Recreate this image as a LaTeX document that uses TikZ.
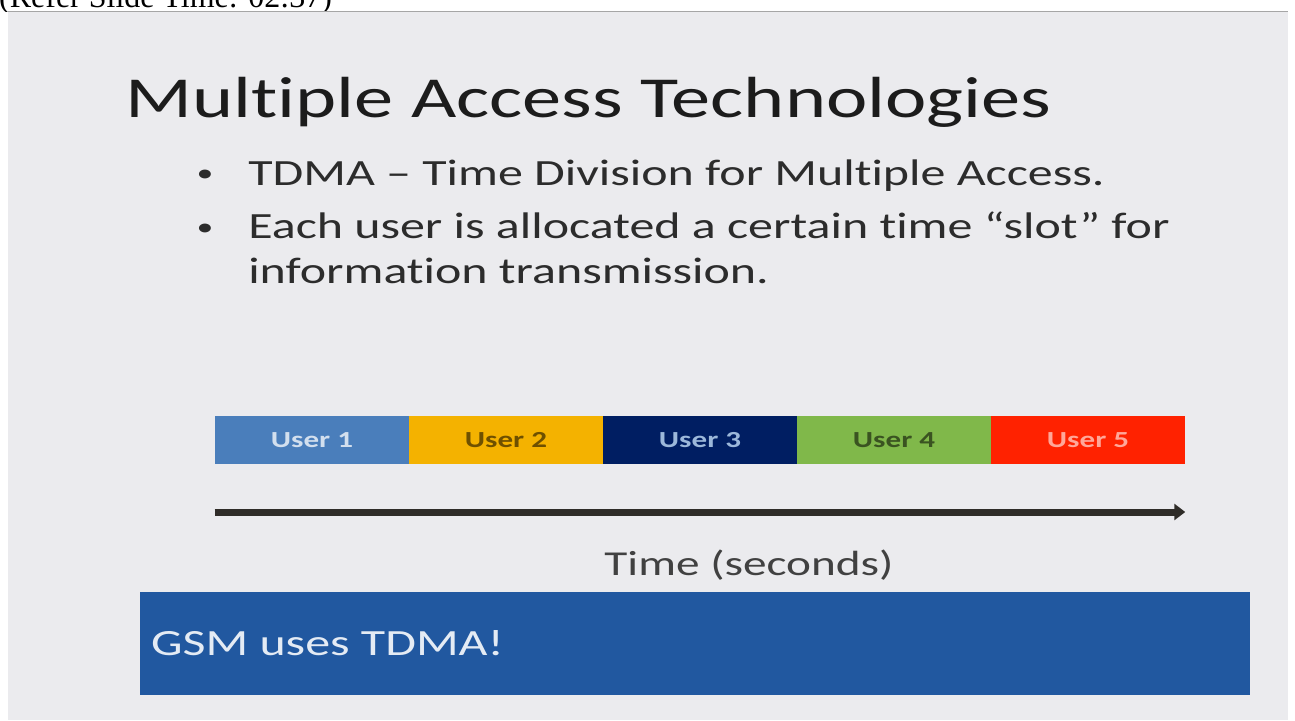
\documentclass[tikz,border=0pt]{standalone}
\usepackage{fontspec}
\setmainfont{Carlito}[Ligatures={TeX,NoCommon}]
\newfontfamily\refreshfont{Liberation Serif}
\usepackage{xcolor}
\usetikzlibrary{arrows.meta}

\definecolor{slidebg}{HTML}{EBEBEE}
\definecolor{titlegray}{HTML}{1C1C1C}
\definecolor{bodygray}{HTML}{2C2C2C}
\definecolor{userone}{HTML}{4A7EBB}
\definecolor{usertwo}{HTML}{F4B200}
\definecolor{userthree}{HTML}{001E62}
\definecolor{userfour}{HTML}{80B84A}
\definecolor{userfive}{HTML}{FF2200}
\definecolor{gsmblue}{HTML}{2158A0}

\begin{document}
\begin{tikzpicture}[x=1pt, y=-1pt]
			\tikzstyle{wide}=[inner sep=0pt, xscale=1.35];
			\tikzstyle{slot}=[wide, minimum width=143.7pt, minimum height=48pt, font=\fontsize{23}{28}\selectfont\bfseries];
			\tikzstyle{bodytext}=[wide, anchor=base west, text=bodygray, font=\fontsize{37}{44}\selectfont];
			\tikzstyle{bulletdot}=[wide, anchor=base, text=bodygray, font=\fontsize{25}{30}\selectfont];
			
			%Page and slide
			\useasboundingbox (0, 0) rectangle (1295, 720);
			\fill[white] (0, 0) rectangle (1295, 720);
			\begin{scope}
				\clip (0, 0) rectangle (1295, 11);
				\node[wide, xscale=0.74, anchor=base west, font=\refreshfont\fontsize{32}{36}\selectfont] (refer) at (-1, 7) {(Refer Slide Time: 02:37)};
			\end{scope}
			\fill[slidebg] (8, 11) rectangle (1288, 720);
			\draw[gray!70, line width=1pt] (8, 11) -- (1288, 11);
			
			%Title
			\node[wide, anchor=base west, text=titlegray, font=\fontsize{58}{66}\selectfont] (title) at (125, 117) {Multiple Access Technologies};
			
			%Bullets
			\node[bulletdot] (dot1) at (205, 181) {•};
			\node[bodytext] (line1) at (248, 185) {TDMA – Time Division for Multiple Access.};
			\node[bulletdot] (dot2) at (205, 235) {•};
			\node[bodytext] (line2) at (248, 238) {Each user is allocated a certain time “slot” for};
			\node[bodytext] (line3) at (248, 283) {information transmission.};
			
			%Time slots
			\node[slot, fill=userone, text=userone!25!white] (u1) at (312, 440) {User 1};
			\node[slot, fill=usertwo, text=usertwo!45!black] (u2) at (506, 440) {User 2};
			\node[slot, fill=userthree, text=userone!55!white] (u3) at (700, 440) {User 3};
			\node[slot, fill=userfour, text=userfour!45!black] (u4) at (894, 440) {User 4};
			\node[slot, fill=userfive, text=userfive!40!white] (u5) at (1088, 440) {User 5};
			
			%Time axis
			\coordinate (tstart) at (u1.west |- 0, 512);
			\coordinate (tend) at (u5.east |- 0, 512);
			\draw[black!88!olive, line width=7pt, -{Triangle[length=11pt, width=16pt]}] (tstart) -- (tend);
			\node[wide, anchor=base, text=bodygray!90!white, font=\fontsize{35}{42}\selectfont] (timelabel) at (749, 575) {Time (seconds)};
			
			%Footer box
			\node[fill=gsmblue, inner sep=0pt, minimum width=1110pt, minimum height=103pt] (gsm) at (695, 643.5) {};
			\node[wide, anchor=west, text=white!88!gsmblue, font=\fontsize{37}{44}\selectfont] (gsmtext) at ([xshift=11pt]gsm.west) {GSM uses TDMA!};
\end{tikzpicture}
\end{document}
